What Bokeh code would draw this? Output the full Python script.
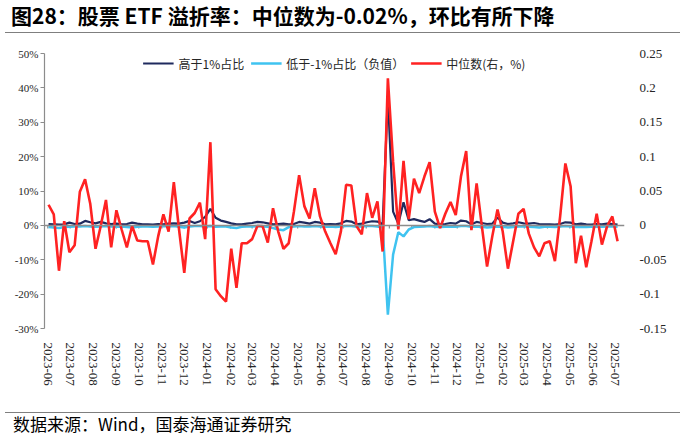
import numpy as np
import pandas as pd
from bokeh.plotting import figure
from bokeh.models import (Range1d, LinearAxis, FixedTicker, CustomJSTickFormatter,
                          Legend, LegendItem, Span, Div)
from bokeh.layouts import column
from bokeh.embed import file_html
from bokeh.resources import INLINE

title_text = "图28：股票 ETF 溢折率：中位数为-0.02%，环比有所下降"
source_text = "数据来源：Wind，国泰海通证券研究"
series_names = ["高于1%占比", "低于-1%占比（负值）", "中位数(右，%)"]

start_date = "2023-06-02"   # weekly observations (Fridays)

month_labels = ["2023-06", "2023-07", "2023-08", "2023-09", "2023-10", "2023-11", "2023-12",
                "2024-01", "2024-02", "2024-03", "2024-04", "2024-05", "2024-06", "2024-07",
                "2024-08", "2024-09", "2024-10", "2024-11", "2024-12", "2025-01", "2025-02",
                "2025-03", "2025-04", "2025-05", "2025-06", "2025-07"]

# share of ETFs with premium above 1% (%)
above_1pct = [
    0.4, 0.3, 0.2, 0.3, 0.8, 0.4, 0.5, 1.3, 0.9, 0.6,
    1.0, 0.6, 0.4, 0.5, 0.3, 0.4, 0.8, 0.5, 0.3, 0.3,
    0.2, 0.4, 0.3, 0.5, 0.6, 0.5, 0.8, 1.3, 0.7, 1.2,
    2.5, 4.8, 2.2, 1.4, 1.0, 0.6, 0.3, 0.3, 0.5, 0.7,
    1.0, 0.9, 0.6, 0.3, 0.4, 0.5, 0.3, 0.4, 1.0, 0.8,
    0.5, 1.0, 0.8, 0.3, 0.4, 0.3, 0.6, 1.3, 1.1, 0.3,
    0.5, 0.9, 1.2, 1.1, 0.3, 37.5, 4.0, 0.5, 6.7, 1.5,
    1.8, 1.4, 1.0, 1.8, 0.5, 0.3, 0.4, 0.7, 0.5, 1.4,
    1.2, 0.3, 1.0, 0.7, 0.4, 0.5, 2.3, 0.8, 0.4, 0.6,
    0.9, 0.6, 0.5, 0.7, 0.4, 0.3, 0.3, 0.2, 0.4, 0.9,
    0.8, 0.3, 0.5, 0.3, 0.2, 0.4, 0.3, 0.5, 0.4, 0.2,
]

# share of ETFs with premium below -1% (shown negative, %)
below_m1pct = [
    -0.5, -0.6, -0.8, -0.5, -0.4, -0.3, -0.3, -0.2, -0.3, -0.4,
    -0.3, -0.2, -0.3, -0.4, -0.3, -0.5, -0.6, -0.4, -0.3, -0.3,
    -0.4, -0.3, -0.2, -0.3, -0.2, -0.4, -0.6, -0.3, -0.2, -0.2,
    -0.3, -0.2, -0.4, -0.3, -0.3, -0.6, -0.8, -0.4, -0.3, -0.3,
    -0.2, -0.3, -0.4, -0.8, -1.2, -1.4, -0.5, -0.3, -0.2, -0.3,
    -0.3, -0.2, -0.3, -0.4, -0.3, -0.5, -0.3, -0.2, -0.2, -0.4,
    -0.3, -0.2, -0.2, -0.3, -0.6, -26.0, -8.5, -2.0, -3.2, -1.2,
    -0.5, -0.4, -0.3, -0.2, -0.4, -0.5, -0.4, -0.3, -0.4, -0.2,
    -0.2, -0.4, -0.3, -0.4, -0.6, -0.5, -0.3, -0.4, -0.6, -0.5,
    -0.3, -0.3, -0.4, -0.5, -0.6, -0.4, -0.4, -0.5, -0.3, -0.2,
    -0.3, -0.5, -0.4, -0.5, -0.4, -0.3, -0.4, -0.3, -0.3, -0.4,
]

# median premium/discount (right axis, %)
median_prem = [
    0.030, 0.016, -0.066, 0.006, -0.039, -0.029, 0.049, 0.067, 0.031, -0.034,
    -0.001, 0.037, -0.032, 0.022, -0.006, -0.032, -0.001, -0.022, -0.023, -0.023,
    -0.057, -0.016, 0.016, -0.009, 0.063, -0.006, -0.069, 0.010, 0.018, 0.033,
    -0.020, 0.121, -0.093, -0.103, -0.111, -0.034, -0.091, -0.026, -0.026, -0.020,
    -0.001, -0.001, -0.025, 0.025, -0.009, -0.034, -0.026, 0.020, 0.073, 0.028,
    0.010, 0.054, 0.013, -0.009, -0.026, -0.042, -0.009, 0.059, 0.058, -0.001,
    -0.013, 0.047, 0.011, 0.035, -0.038, 0.214, 0.093, -0.006, 0.094, 0.009,
    0.068, 0.047, 0.071, 0.092, 0.020, -0.004, 0.017, 0.034, 0.015, 0.071,
    0.108, -0.007, 0.061, -0.001, -0.060, -0.016, 0.023, -0.009, -0.063, -0.023,
    0.017, 0.024, -0.012, -0.032, -0.045, -0.026, -0.023, -0.052, 0.013, 0.090,
    0.057, -0.055, -0.015, -0.061, -0.023, 0.017, -0.028, -0.001, 0.013, -0.023,
]

left_ticks = [-30, -20, -10, 0, 10, 20, 30, 40, 50]
right_ticks = [-0.15, -0.1, -0.05, 0, 0.05, 0.1, 0.15, 0.2, 0.25]

# ---------------------------------------------------------------
dates = pd.date_range(start_date, periods=len(median_prem), freq="7D")
month_dt = pd.to_datetime(month_labels, format="%Y-%m")
month_ms = month_dt.values.astype("datetime64[ms]").astype("int64").tolist()

C_DARK = "#1f2a5e"
C_LIGHT = "#3fc3f0"
C_RED = "#ff2222"
AX = "#8c8c8c"
TXT = "#262626"
SERIF = "Liberation Serif"

p = figure(width=675, height=369, x_axis_type="datetime",
           output_backend="svg", toolbar_location=None, title=None,
           x_range=Range1d(pd.Timestamp("2023-05-27 14:00"), pd.Timestamp("2025-07-13 07:00")),
           y_range=Range1d(left_ticks[0], left_ticks[-1]),
           min_border_left=44, min_border_right=51, min_border_top=15, min_border_bottom=79)
p.outline_line_color = None
p.xgrid.visible = False
p.ygrid.visible = False
p.background_fill_color = "white"
p.border_fill_color = "white"

p.extra_y_ranges = {"right": Range1d(right_ticks[0], right_ticks[-1])}

# left axis
ya = p.yaxis[0]
ya.ticker = FixedTicker(ticks=left_ticks)
ya.formatter = CustomJSTickFormatter(code="return tick.toFixed(0) + '%';")
ya.axis_line_color = AX
ya.axis_line_width = 1.2
ya.major_tick_line_color = AX
ya.major_tick_out = 4
ya.major_tick_in = 0
ya.minor_tick_line_color = None
ya.major_label_standoff = 2
ya.major_label_text_font = SERIF
ya.major_label_text_font_size = "11px"
ya.major_label_text_color = TXT

# right axis
ra = LinearAxis(y_range_name="right", ticker=FixedTicker(ticks=right_ticks),
                formatter=CustomJSTickFormatter(code="return String(parseFloat(tick.toFixed(2)));"))
ra.axis_line_color = None
ra.major_tick_line_color = None
ra.minor_tick_line_color = None
ra.major_label_standoff = 9
ra.major_label_text_font = SERIF
ra.major_label_text_font_size = "13px"
ra.major_label_text_color = TXT
p.add_layout(ra, "right")

# bottom axis (labels only)
xa = p.xaxis[0]
xa.ticker = FixedTicker(ticks=month_ms)
xa.formatter = CustomJSTickFormatter(code="""
const d = new Date(tick);
return d.getUTCFullYear() + '-' + String(d.getUTCMonth() + 1).padStart(2, '0');
""")
xa.axis_line_color = None
xa.major_tick_line_color = None
xa.minor_tick_line_color = None
xa.major_label_orientation = "vertical"
xa.major_label_standoff = 8
xa.major_label_text_font = SERIF
xa.major_label_text_font_size = "13px"
xa.major_label_text_color = TXT

# zero line with month ticks
p.add_layout(Span(location=0, dimension="width", line_color=AX, line_width=1.5))
p.segment(x0=month_dt, y0=0, x1=month_dt, y1=-0.9, line_color=AX, line_width=1.2)

r1 = p.line(dates, above_1pct, line_color=C_DARK, line_width=2.2)
r2 = p.line(dates, below_m1pct, line_color=C_LIGHT, line_width=2.5)
r3 = p.line(dates, median_prem, line_color=C_RED, line_width=2.6, y_range_name="right")

legend = Legend(items=[LegendItem(label=series_names[0], renderers=[r1]),
                       LegendItem(label=series_names[1], renderers=[r2]),
                       LegendItem(label=series_names[2], renderers=[r3])],
                orientation="horizontal", location="top_center",
                border_line_color=None, background_fill_alpha=0,
                label_text_font="Noto Sans CJK SC", label_text_font_size="12px",
                label_text_color=TXT, glyph_width=31, glyph_height=20,
                label_standoff=5, spacing=6, padding=5, margin=0)
p.add_layout(legend)

title_div = Div(text=title_text, width=675, height=28,
                styles={"font-family": "'Noto Sans CJK SC'", "font-size": "21px",
                        "font-weight": "bold", "color": "#000", "line-height": "21px",
                        "padding-left": "6px", "box-sizing": "border-box",
                        "border-bottom": "1.5px solid #7f7f7f", "background": "white"})
foot_div = Div(text=source_text, width=675, height=23,
               styles={"font-family": "'Noto Sans CJK SC'", "font-size": "17px",
                       "color": "#000", "line-height": "21px", "padding-left": "8px",
                       "box-sizing": "border-box", "border-top": "1.5px solid #7f7f7f",
                       "background": "white"})

layout = column(title_div, p, foot_div, spacing=0)
open("out.html", "w").write(file_html(layout, INLINE))
